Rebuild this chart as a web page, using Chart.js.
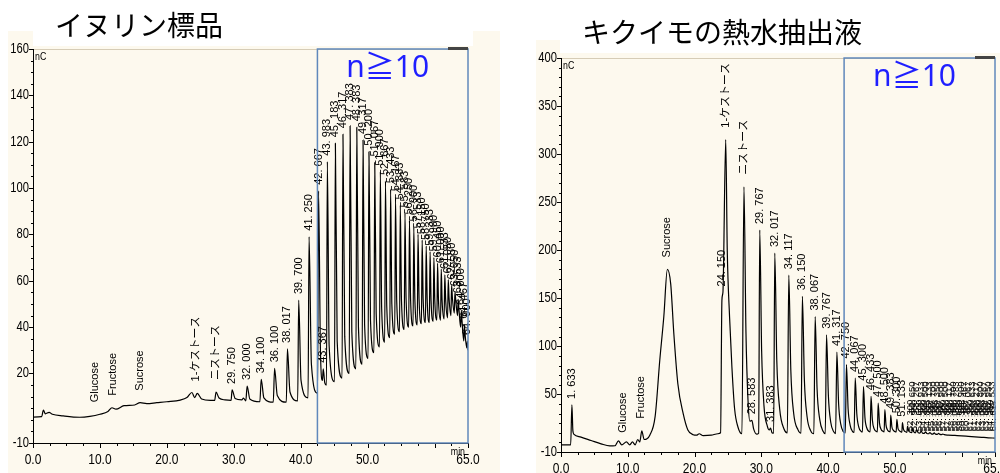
<!DOCTYPE html>
<html lang="ja">
<head>
<meta charset="utf-8">
<title>イヌリン標品 / キクイモの熱水抽出液</title>
<script src="https://cdn.jsdelivr.net/npm/chart.js@4.4.1/dist/chart.umd.min.js"></script>
<style>
  html, body { margin: 0; padding: 0; background: #fff; }
  #wrap { position: relative; width: 1000px; height: 473px; overflow: hidden; }
  canvas { position: absolute; top: 0; }
  #left { left: 0; }
  #right { left: 500px; }
</style>
</head>
<body>
<div id="wrap">
  <canvas id="left" width="500" height="473"></canvas>
  <canvas id="right" width="500" height="473"></canvas>
</div>
<script>
// ---- data ----
const xLabelValues = [0, 10, 20, 30, 40, 50, 65];
const leftYLabels = [-10, 20, 40, 60, 80, 100, 120, 140, 160];
const rightYLabels = [-10, 50, 100, 150, 200, 250, 300, 350, 400];

// イヌリン標品 : [time(min), signal(nC)]
const leftTrace = [
  [0,1.2],[1.3,1.4],[1.55,4.2],[1.85,2.6],[2.4,3.2],[2.9,2.4],[4.5,1.7],[7.0,1.1],[8.5,1.5],[10.0,2.4],
  [11.2,3.6],[11.8,5.2],[12.4,4.6],[13.6,6.1],[15.2,6.4],[16.0,7.4],[17.0,7.0],[18.5,7.4],[20.0,7.8],
  [22.0,8.5],[23.0,9.6],[23.75,11.8],[24.15,9.6],[24.55,11.4],[25.2,9.0],[26.5,8.4],[27.15,8.4],
  [27.35,12.0],[27.8,9.4],[28.7,8.6],[29.6,8.4],
  [29.75,12.9],[30.2,9.2],[31.2,8.6],[31.45,9.4],[31.8,8.2],
  [32.0,14.6],[32.4,9.0],[33.9,7.8],
  [34.1,17.5],[34.5,9.5],[35.9,7.6],
  [36.1,22.2],[36.5,10.5],[37.85,7.6],
  [38.017,30.6],[38.4,12],[39.55,8.2],
  [39.7,51.7],[40.05,17],[41.1,9.5],
  [41.25,79],[41.6,24],[42.52,11.5],
  [42.667,98.8],[42.95,30],[43.25,17],[43.367,22],[43.6,16],[43.85,15],
  [43.983,111.4],[44.25,32],[45.05,16.5],
  [45.183,119.3],[45.45,34],[46.18,18],
  [46.317,123.2],[46.58,36],[47.25,20],
  [47.383,126.8],[47.64,38],[48.25,22],
  [48.383,126.2],[48.63,40],[49.18,24],
  [49.317,120.7],[49.55,41],[50.07,26.5],
  [50.2,115.7],[50.43,43],[50.95,29],
  [51.067,111],[51.28,46],[51.78,31.5],
  [51.9,107],[52.1,48],[52.55,33.5],
  [52.667,103],[52.86,49],[53.31,35.5],
  [53.433,99.5],[53.62,50],[54.05,37],
  [54.167,96],[54.35,51],[54.77,38],
  [54.883,92.5],[55.06,51.5],[55.47,39],
  [55.583,89],[55.75,52],[56.14,40],
  [56.25,86],[56.42,52],[56.79,40.5],
  [56.9,83],[57.06,52],[57.42,41],
  [57.533,80],[57.69,52],[58.04,41.5],
  [58.15,77.5],[58.3,52],[58.64,42],
  [58.75,75],[58.9,52],[59.22,42],
  [59.333,72.5],[59.48,51.5],[59.8,42.5],
  [59.9,70],[60.04,51.5],[60.35,43],
  [60.45,67.5],[60.59,51.5],[60.9,43],
  [61.0,65],[61.13,51.5],[61.43,43.5],
  [61.533,62.5],[61.66,52],[61.95,44],
  [62.05,60.5],[62.17,52.5],[62.45,45],
  [62.55,58],[62.67,52.5],[62.95,46],
  [63.05,55],[63.16,52],[63.43,45],
  [63.533,52],[63.64,48],[63.9,40],
  [64.0,47],[64.1,43],[64.37,34],
  [64.467,41],[64.56,37],[64.82,31],
  [64.9,34],[65,30]
];
const leftNamedPeaks = [[9.3,'Glucose'],[12.0,'Fructose'],[16.0,'Sucrose'],[24.4,'1-ケストース'],[27.35,'ニストース']];
const leftPeakTimes = [29.750, 32.000, 34.100, 36.100, 38.017, 39.700, 41.250, 42.667, 43.367, 43.983,
  45.183, 46.317, 47.383, 48.383, 49.317, 50.200, 51.067, 51.900, 52.667, 53.433, 54.167, 54.883,
  55.583, 56.250, 56.900, 57.533, 58.150, 58.750, 59.333, 59.900, 60.450, 61.000, 61.533, 62.050,
  62.550, 63.050, 63.533, 64.000, 64.467, 64.900];

// キクイモの熱水抽出液 : [time(min), signal(nC)]
const rightTrace = [
  [0,-2.5],[1.45,-2.5],[1.633,39],[1.78,12],[1.95,8.4],[3.0,5.5],[4.5,2],[6.0,-1.5],[7.3,-3.7],[8.1,-3.5],
  [8.6,1.5],[9.1,-2.5],[9.8,0.5],[10.3,-2.5],[10.7,0.5],[11.1,-2.5],[11.5,3],[11.8,0.5],[12.1,12],[12.45,3],
  [13.3,7.5],[14.1,27],[14.8,86],[15.4,131],[15.93,180],[16.43,165],[16.9,113],[17.5,61],[18.3,30],[19.0,13],
  [19.8,8],[20.3,7.5],[20.7,9],[21.3,7],[22.5,7.5],[23.5,9],[23.9,10],
  [24.1,148],[24.25,156],[24.67,315],[24.9,200],[25.25,130],[25.6,78],[26.0,35],[26.5,16],[27.1,9],
  [27.4,266],[27.7,115],[28.0,45],[28.3,22],[28.583,23],[28.85,14],[29.3,8.5],[29.6,9.5],
  [29.767,221],[30.05,95],[30.4,38],[30.9,17],[31.2,13],[31.383,15],[31.6,10],[31.85,9.5],
  [32.017,197],[32.32,85],[32.75,35],[33.4,14],[33.9,10],
  [34.117,174],[34.42,75],[34.85,30],[35.5,13],[35.95,9.5],
  [36.15,152],[36.45,65],[36.85,27],[37.4,12],[37.87,9],
  [38.067,131],[38.35,56],[38.75,24],[39.25,11.5],[39.58,9],
  [39.767,112],[40.05,48],[40.4,21],[40.85,11],[41.13,9.2],
  [41.317,94],[41.58,40],[41.9,19],[42.3,11],[42.58,9.8],
  [42.75,81],[43.0,35],[43.3,18],[43.65,11.5],[43.9,10.3],
  [44.067,67],[44.3,30],[44.6,16],[44.95,11.5],[45.15,10.8],
  [45.3,58],[45.52,26],[45.8,15],[46.1,11.5],[46.3,11],
  [46.433,48],[46.64,23],[46.9,14],[47.2,11.5],[47.38,11],
  [47.5,41],[47.7,20],[47.95,13.5],[48.22,11.5],[48.4,11],
  [48.5,34],[48.68,18],[48.9,13],[49.15,11.3],[49.3,11],
  [49.383,28.5],[49.56,16],[49.8,12.5],[50.05,11],[50.2,10.8],
  [50.3,24],[50.47,14.5],[50.7,12],[50.95,10.8],[51.05,10.6],
  [51.133,20.5],[51.3,13.5],[51.55,11.2],[51.8,10.5],
  [51.9,17],[52.07,12.2],[52.3,10.6],[52.55,10.2],
  [52.65,14.5],[52.82,11.2],[53.05,10],
  [53.3,12.8],[53.5,10],[53.75,9.6],[53.95,11.8],[54.15,9.6],[54.4,9.3],[54.6,11],[54.8,9.3],
  [55.05,9],[55.25,10.3],[55.45,8.9],[55.7,8.7],[55.9,9.8],[56.1,8.6],[56.35,8.4],[56.55,9.3],
  [56.75,8.3],[57.0,8.1],[57.2,8.7],[57.4,8],[58,7.6],[59,7.2],[60,6.8],[61,6.3],[62,5.8],
  [63,5.3],[64,4.8],[65,4.5]
];
const rightNamedPeaks = [[9.3,'Glucose'],[12.0,'Fructose'],[15.93,'Sucrose'],[24.67,'1-ケストース'],[27.4,'ニストース']];
const rightPeakTimes = [1.633, 24.150, 28.583, 29.767, 31.383, 32.017, 34.117, 36.150, 38.067, 39.767,
  41.317, 42.750, 44.067, 45.300, 46.433, 47.500, 48.500, 49.383, 50.300, 51.133];
// small late peaks, printed in two stacked rows by the integrator
const rightUpperRowTimes = [52.650, 53.267, 53.933, 54.500, 55.133, 55.700, 56.350, 56.900, 57.500, 58.117,
  58.700, 59.283, 59.900, 60.467, 61.067, 61.633, 62.217, 62.800, 63.367, 63.950, 64.533];
const rightLowerRowTimes = [52.300, 52.950, 53.600, 54.200, 54.833, 55.417, 56.033, 56.617, 57.200, 57.800,
  58.400, 59.000, 59.600, 60.183, 60.767, 61.350, 61.933, 62.500, 63.083, 63.667, 64.250, 64.817];
const rightDottedLevels = [36.5, 27.5];
const rightDottedStart = 53.8;

const leftRegionStart = 42.5;   // n≧10
const rightRegionStart = 42.4;

// ---- drawing ----
const CREAM = '#fdf9ee';
const TICK_FONT = '"Liberation Sans", "DejaVu Sans", sans-serif';
const LABEL_FONT = '11px "Liberation Sans", "Noto Sans CJK JP", sans-serif';
const ROW_FONT = '9.5px "Liberation Sans", sans-serif';

function fmt(t) { return t.toFixed(3).replace('.', '. '); }

function anchorValue(trace, t) {
  let m = -Infinity, best = null, bd = Infinity;
  trace.forEach(function(p) {
    const d = Math.abs(p[0] - t);
    if (d <= 0.3) m = Math.max(m, p[1]);
    if (d < bd) { bd = d; best = p[1]; }
  });
  return m > -Infinity ? m : best;
}

// condensed text, like the integrator's narrow font
function narrowText(c, text, x, y) {
  c.save();
  c.translate(x, y);
  c.scale(0.8, 1);
  c.fillText(text, 0, 0);
  c.restore();
}

function chromPlugin(cfg) {
  return {
    id: 'chrom',
    beforeDraw: function(chart) {
      const c = chart.ctx;
      c.save();
      c.fillStyle = CREAM;
      c.fillRect(cfg.cream[0], cfg.cream[1], cfg.cream[2], cfg.cream[3]);
      c.fillStyle = '#fff';
      c.fillRect(cfg.white[0], cfg.white[1], cfg.white[2], cfg.white[3]);
      c.fillStyle = '#000';
      c.font = '28px "Noto Sans CJK JP", sans-serif';
      c.textAlign = 'left';
      c.textBaseline = 'alphabetic';
      c.fillText(cfg.title, cfg.titlePos[0], cfg.titlePos[1]);
      c.restore();
    },
    afterDraw: function(chart) {
      const c = chart.ctx, a = chart.chartArea, xs = chart.scales.x, ys = chart.scales.y;
      c.save();

      // peak labels
      c.fillStyle = '#000';
      c.textAlign = 'left';
      c.textBaseline = 'middle';
      function vlabel(t, v, text, off) {
        const px = xs.getPixelForValue(t), py = ys.getPixelForValue(v) - off;
        c.save();
        c.translate(px, py);
        c.rotate(-Math.PI / 2);
        c.fillText(text, 0, 0);
        c.restore();
      }
      c.font = LABEL_FONT;
      cfg.named.forEach(function(p) { vlabel(p[0], anchorValue(cfg.trace, p[0]), p[1], 12); });
      cfg.peaks.forEach(function(t) { vlabel(t, anchorValue(cfg.trace, t), fmt(t), 6); });
      c.font = ROW_FONT;
      (cfg.upperRow || []).forEach(function(t) { vlabel(t, 30.5, fmt(t), 0); });
      (cfg.lowerRow || []).forEach(function(t) { vlabel(t, 11.5, fmt(t), 0); });

      // frame
      c.strokeStyle = '#d6ccb6';
      c.lineWidth = 1;
      c.beginPath();
      c.moveTo(a.left, a.top + 0.5);
      c.lineTo(a.right, a.top + 0.5);
      c.stroke();

      c.strokeStyle = '#000';
      c.beginPath();
      c.moveTo(a.left + 0.5, a.top);
      c.lineTo(a.left + 0.5, a.bottom + 0.5);
      c.lineTo(a.right, a.bottom + 0.5);
      c.stroke();

      // y ticks
      c.beginPath();
      for (let v = -10; v <= cfg.yMax; v += cfg.yMinor) {
        const py = Math.round(ys.getPixelForValue(v)) + 0.5;
        const major = cfg.yLabels.indexOf(v) >= 0;
        c.moveTo(a.left - (major ? 4 : 2), py);
        c.lineTo(a.left, py);
      }
      c.stroke();
      c.font = '14px ' + TICK_FONT;
      c.textAlign = 'right';
      c.textBaseline = 'middle';
      cfg.yLabels.forEach(function(v) {
        narrowText(c, String(v), a.left - 4, ys.getPixelForValue(v));
      });
      c.font = '11px ' + TICK_FONT;
      c.textAlign = 'left';
      c.textBaseline = 'top';
      narrowText(c, 'nC', a.left + 2, a.top + 2);

      // x ticks
      c.beginPath();
      for (let t = 0; t <= 65; t += 2.5) {
        const px = Math.round(xs.getPixelForValue(t)) + 0.5;
        const major = t % 10 === 0 || t === 65;
        c.moveTo(px, a.bottom);
        c.lineTo(px, a.bottom + (major ? 5 : 3));
      }
      c.stroke();
      c.font = '15px ' + TICK_FONT;
      c.textAlign = 'center';
      c.textBaseline = 'top';
      xLabelValues.forEach(function(t) {
        narrowText(c, t.toFixed(1), xs.getPixelForValue(t), a.bottom + 9);
      });
      c.font = '11px ' + TICK_FONT;
      c.textAlign = 'right';
      narrowText(c, 'min', xs.getPixelForValue(65) - 3, a.bottom + 3);

      // n≧10 region
      const bx = xs.getPixelForValue(cfg.region);
      c.strokeStyle = '#6088bb';
      c.lineWidth = 1.5;
      c.strokeRect(bx, a.top, a.right - bx, a.bottom - a.top);
      c.fillStyle = '#444';
      c.fillRect(a.right - 20, a.top - 2, 20, 3);
      c.fillStyle = '#1f1fff';
      c.font = '30px "Noto Sans", "Noto Sans CJK JP", sans-serif';
      c.textAlign = 'center';
      c.textBaseline = 'top';
      c.fillText('n≧10', (bx + a.right) / 2 - 5, a.top + 4);

      c.restore();
    }
  };
}

function makeChart(id, cfg) {
  const datasets = [{
    data: cfg.trace.map(function(p) { return { x: p[0], y: p[1] }; }),
    borderColor: '#000',
    borderWidth: 1.2,
    pointRadius: 0,
    cubicInterpolationMode: 'monotone',
    fill: false
  }];
  (cfg.dotted || []).forEach(function(v) {
    datasets.push({
      data: [{ x: cfg.dottedStart, y: v }, { x: 65, y: v }],
      borderColor: '#555',
      borderWidth: 0.8,
      borderDash: [1, 2],
      pointRadius: 0,
      fill: false
    });
  });
  return new Chart(document.getElementById(id), {
    type: 'line',
    data: { datasets: datasets },
    options: {
      responsive: false,
      animation: false,
      devicePixelRatio: 1,
      layout: { padding: cfg.padding },
      plugins: { legend: { display: false }, tooltip: { enabled: false } },
      scales: {
        x: { type: 'linear', min: 0, max: 65, display: false },
        y: { type: 'linear', min: -10, max: cfg.yMax, display: false }
      }
    },
    plugins: [chromPlugin(cfg)]
  });
}

makeChart('left', {
  title: 'イヌリン標品', titlePos: [55, 36],
  cream: [8, 31, 492, 442], white: [33, 0, 440, 46],
  padding: { left: 33, top: 49, right: 32, bottom: 30 },
  trace: leftTrace, named: leftNamedPeaks, peaks: leftPeakTimes,
  yMax: 160, yMinor: 5, yLabels: leftYLabels, region: leftRegionStart
});

makeChart('right', {
  title: 'キクイモの熱水抽出液', titlePos: [82, 43],
  cream: [36, 40, 464, 433], white: [60, 0, 440, 53],
  padding: { left: 61, top: 58, right: 5, bottom: 21 },
  trace: rightTrace, named: rightNamedPeaks, peaks: rightPeakTimes,
  upperRow: rightUpperRowTimes, lowerRow: rightLowerRowTimes,
  dotted: rightDottedLevels, dottedStart: rightDottedStart,
  yMax: 400, yMinor: 10, yLabels: rightYLabels, region: rightRegionStart
});
</script>
</body>
</html>
